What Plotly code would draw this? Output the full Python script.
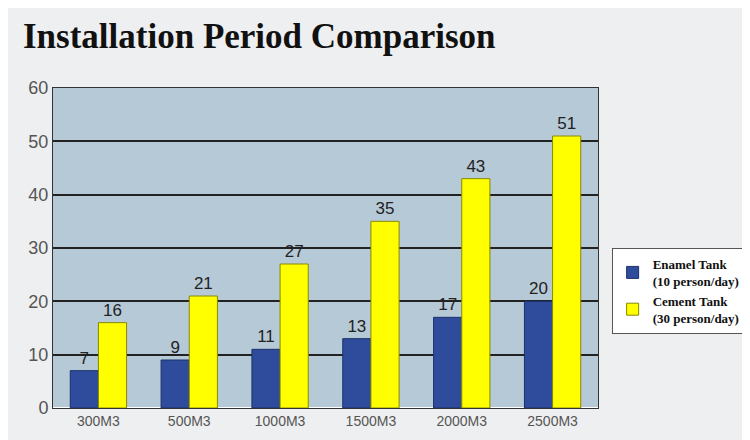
import plotly.graph_objects as go

categories = ["300M3", "500M3", "1000M3", "1500M3", "2000M3", "2500M3"]
enamel = [7, 9, 11, 13, 17, 20]
cement = [16, 21, 27, 35, 43, 51]
yticks = [0, 10, 20, 30, 40, 50, 60]

fig = go.Figure()
fig.add_bar(x=categories, y=enamel, name="<b>Enamel Tank</b><br><b>(10 person/day)</b>",
            marker=dict(color="#2f4c9c", line=dict(color="#1c2f6a", width=1)),
            text=enamel, textposition="outside", textfont=dict(size=17, color="#222", family="Liberation Sans"))
fig.add_bar(x=categories, y=cement, name="<b>Cement Tank</b><br><b>(30 person/day)</b>",
            marker=dict(color="#ffff00", line=dict(color="#888800", width=1)),
            text=cement, textposition="outside", textfont=dict(size=17, color="#222", family="Liberation Sans"))

fig.update_layout(
    width=750, height=440,
    margin=dict(l=45, r=152, t=80, b=40),
    paper_bgcolor="#eeeff0", plot_bgcolor="#b6c9d7",
    barmode="group", bargap=0.38, bargroupgap=0.0,
    title=dict(text="<b>Installation Period Comparison</b>", x=0.02, y=0.965, xanchor="left",
               font=dict(family="Liberation Serif", size=35, color="#111")),
    xaxis=dict(tickfont=dict(size=14, color="#555", family="Liberation Sans"), showline=True,
               linecolor="#333", mirror=True),
    yaxis=dict(range=[0, 60], tickvals=yticks, showgrid=True, gridcolor="#222", gridwidth=1.5,
               tickfont=dict(size=18, color="#555", family="Liberation Sans"), showline=True,
               linecolor="#333", mirror=True, ticks=""),
    legend=dict(x=1.025, y=0.5, xanchor="left", yanchor="top", bgcolor="#ffffff",
                bordercolor="#555", borderwidth=1, tracegroupgap=28,
                font=dict(family="Liberation Serif", size=13, color="#111")),
    showlegend=True,
)
fig.write_html("out.html")
